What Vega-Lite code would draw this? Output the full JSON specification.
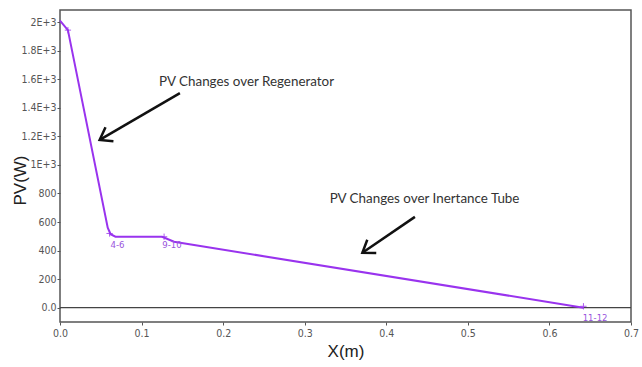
{
  "$schema": "https://vega.github.io/schema/vega-lite/v6.json",
  "width": 571,
  "height": 312,
  "autosize": "none",
  "padding": {"left": 60, "top": 10, "right": 11, "bottom": 45},
  "background": "white",
  "config": {
    "view": {"stroke": "#555555", "strokeWidth": 1.5},
    "axis": {
      "grid": false,
      "domain": false,
      "tickColor": "#555555",
      "tickSize": 3,
      "labelFont": "Liberation Sans Narrow, DejaVu Sans Condensed, sans-serif",
      "labelFontSize": 10.5,
      "labelColor": "#555555",
      "labelFlush": false,
      "titleFont": "Liberation Sans, Arial, sans-serif",
      "titleFontSize": 17,
      "titleFontWeight": "normal",
      "titleColor": "#222222"
    }
  },
  "datasets": {
    "curve": [
      {"x": 0.0, "pv": 2010, "k": 0},
      {"x": 0.0097, "pv": 1944, "k": 1},
      {"x": 0.0585, "pv": 560, "k": 2},
      {"x": 0.0620, "pv": 515, "k": 3},
      {"x": 0.0680, "pv": 497, "k": 4},
      {"x": 0.1252, "pv": 497, "k": 5},
      {"x": 0.1398, "pv": 462, "k": 6},
      {"x": 0.6417, "pv": 0, "k": 7}
    ],
    "marks": [
      {"x": 0.0097, "pv": 1944},
      {"x": 0.0608, "pv": 520},
      {"x": 0.1276, "pv": 497},
      {"x": 0.6417, "pv": 10}
    ],
    "nodeLabels": [
      {"x": 0.0705, "pv": 440, "label": "4-6"},
      {"x": 0.1373, "pv": 440, "label": "9-10"},
      {"x": 0.6560, "pv": -70, "label": "11-12"}
    ],
    "arrows": [
      {"arrow": "a1", "part": "shaft", "k": 0, "x": 0.1470, "pv": 1503},
      {"arrow": "a1", "part": "shaft", "k": 1, "x": 0.0486, "pv": 1175},
      {"arrow": "a1", "part": "head", "k": 0, "x": 0.0655, "pv": 1166},
      {"arrow": "a1", "part": "head", "k": 1, "x": 0.0486, "pv": 1175},
      {"arrow": "a1", "part": "head", "k": 2, "x": 0.0558, "pv": 1264},
      {"arrow": "a2", "part": "shaft", "k": 0, "x": 0.4351, "pv": 636},
      {"arrow": "a2", "part": "shaft", "k": 1, "x": 0.3707, "pv": 385},
      {"arrow": "a2", "part": "head", "k": 0, "x": 0.3877, "pv": 383},
      {"arrow": "a2", "part": "head", "k": 1, "x": 0.3707, "pv": 385},
      {"arrow": "a2", "part": "head", "k": 2, "x": 0.3767, "pv": 476}
    ],
    "notes": [
      {"x": 0.1215, "pv": 1580, "text": "PV Changes over Regenerator"},
      {"x": 0.3306, "pv": 762, "text": "PV Changes over Inertance Tube"}
    ]
  },
  "encoding": {
    "x": {
      "field": "x", "type": "quantitative",
      "scale": {"domain": [0, 0.7], "nice": false, "zero": false},
      "axis": {"values": [0, 0.1, 0.2, 0.3, 0.4, 0.5, 0.6, 0.7], "format": ".1f", "title": "X(m)", "labelPadding": 3, "titlePadding": 5}
    },
    "y": {
      "field": "pv", "type": "quantitative",
      "scale": {"domain": [-100, 2085], "nice": false, "zero": false},
      "axis": {
        "values": [0, 200, 400, 600, 800, 1000, 1200, 1400, 1600, 1800, 2000],
        "labelExpr": "datum.value == 0 ? '0.0' : (datum.value < 1000 ? '' + datum.value : format(datum.value / 1000, '') + 'E+3')",
        "title": "PV(W)",
        "labelPadding": 1,
        "titleX": -40,
        "titleY": 170,
        "titleBaseline": "middle",
        "titleAngle": -90
      }
    }
  },
  "layer": [
    {
      "data": {"values": [{"pv": 0}]},
      "mark": {"type": "rule", "color": "#444444", "strokeWidth": 1.3},
      "encoding": {"x": null, "y": {"field": "pv", "type": "quantitative"}}
    },
    {
      "data": {"name": "curve"},
      "mark": {"type": "line", "color": "#9933ee", "strokeWidth": 2},
      "encoding": {"order": {"field": "k", "type": "quantitative"}}
    },
    {
      "data": {"name": "marks"},
      "mark": {"type": "point", "shape": "M-1,0L1,0M0,-1L0,1", "filled": false, "color": "#9933ee", "size": 40, "strokeWidth": 1, "opacity": 0.8}
    },
    {
      "data": {"name": "nodeLabels"},
      "mark": {"type": "text", "color": "#9955dd", "fontSize": 9.5, "font": "Liberation Sans Narrow, DejaVu Sans Condensed, sans-serif", "align": "center", "baseline": "middle"},
      "encoding": {"text": {"field": "label"}}
    },
    {
      "data": {"name": "arrows"},
      "mark": {"type": "line", "color": "#111111", "strokeWidth": 2.5, "strokeJoin": "miter"},
      "encoding": {
        "detail": [{"field": "arrow"}, {"field": "part"}],
        "order": {"field": "k", "type": "quantitative"}
      }
    },
    {
      "data": {"name": "notes"},
      "mark": {"type": "text", "color": "#333333", "fontSize": 13.4, "font": "Lato, sans-serif", "align": "left", "baseline": "middle"},
      "encoding": {"text": {"field": "text"}}
    }
  ]
}
